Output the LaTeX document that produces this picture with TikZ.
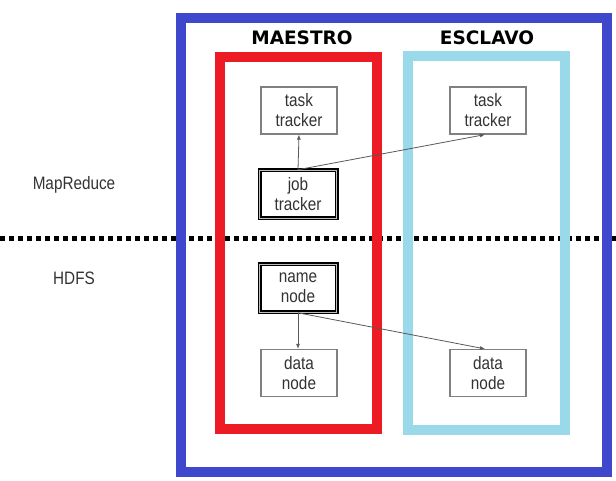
\documentclass[tikz,border=0pt]{standalone}
\usepackage{fontspec}
\setmainfont{Liberation Sans}
\newfontfamily\narrowfont[FakeStretch=0.85]{Liberation Sans}
\newfontfamily\headfont{DejaVu Sans}
\usepackage{xcolor}
\definecolor{outerblue}{RGB}{63,72,204}
\definecolor{masterred}{RGB}{237,28,36}
\definecolor{slaveblue}{RGB}{153,217,234}
\definecolor{boxgray}{gray}{0.50}
\definecolor{linkgray}{gray}{0.35}
\usepackage{tikz}
\usetikzlibrary{arrows.meta,positioning}

\begin{document}
\begin{tikzpicture}[
  x=1pt, y=-1pt,
  frame/.style={
    rectangle, inner sep=0pt,
    draw=#1, line width=10pt
  },
  tracker/.style={
    rectangle, inner sep=0pt,
    minimum width=76pt, minimum height=47pt,
    align=center, draw=boxgray, fill=white,
    line width=1.2pt, text=black!80,
    font=\narrowfont\fontsize{18}{20}\selectfont
  },
  master/.style={
    tracker, minimum width=77pt, minimum height=48pt,
    draw=black, line width=1.6pt, double=black!25, double distance=0.8pt
  },
  title/.style={font=\headfont\fontsize{18.5}{22}\selectfont\bfseries},
  layer/.style={font=\narrowfont\fontsize{18}{20}\selectfont, text=black!80},
  arr/.style={-{Latex[length=5pt,width=4pt]}, line width=0.8pt, color=linkgray}
]
\useasboundingbox (0,0) rectangle (616,481);

\coordinate (sepL) at (0,239);
\coordinate (sepR) at (616,239);
\draw[line width=5pt, dash pattern=on 5pt off 4pt] (sepL) -- (sepR);

\node[frame=outerblue, minimum width=426pt, minimum height=454pt] (cluster) at (394,245) {};
\node[frame=masterred, minimum width=157pt, minimum height=372pt] (maestroBox) at (298.5,243) {};
\node[frame=slaveblue, minimum width=157pt, minimum height=374pt] (esclavoBox) at (486.5,243) {};

\node[title] (maestro) at (302,38) {MAESTRO};
\node[title] (esclavo) at (487,38) {ESCLAVO};

\node[layer] (mapreduce) at (74,185) {MapReduce};
\node[layer] (hdfs) at (74,278) {HDFS};

\node[tracker] (ttM) at (299,110.5) {task\\tracker};
\node[tracker] (ttS) at (488,110.5) {task\\tracker};
\node[master] (job) at (298,194.5) {job\\tracker};
\node[master] (name) at (298,288) {name\\node};
\node[tracker] (dnM) at (299,373) {data\\node};
\node[tracker] (dnS) at (488,373) {data\\node};

\draw[arr] (job.north) -- (ttM.south);
\draw[arr] (job.north) -- ([xshift=-3pt]ttS.south);
\draw[arr] (name.south) -- (name.south |- dnM.north);
\draw[arr] (name.south) -- ([xshift=-3pt]dnS.north);
\end{tikzpicture}
\end{document}
